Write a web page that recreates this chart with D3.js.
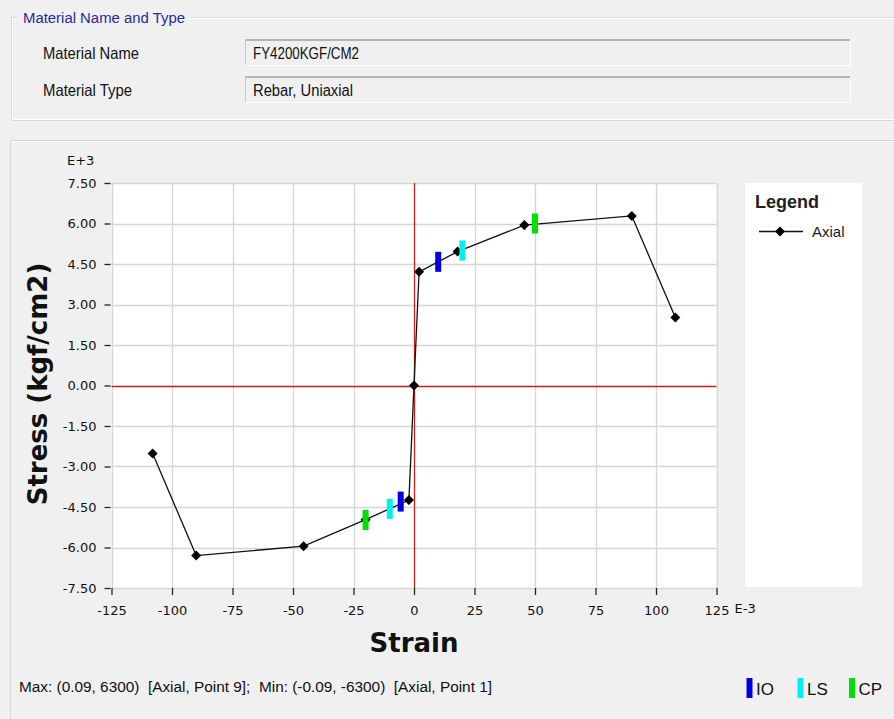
<!DOCTYPE html>
<html><head><meta charset="utf-8">
<script src="https://cdn.jsdelivr.net/npm/d3@7"></script>
<style>
html,body{margin:0;padding:0;background:#f0f0f0;}
svg{display:block;font-family:"Liberation Sans",Arial,sans-serif;}
</style></head>
<body>
<svg id="c" width="894" height="719"></svg>
<script>
// ---- data ----
const strain = [-108, -90, -45.6, -20, -2.1, 0, 2.1, 18, 45.6, 90, 108];      // E-3
const stress = [-2.52, -6.3, -5.95, -4.97, -4.24, 0, 4.21, 4.96, 5.94, 6.28, 2.52]; // E+3 kgf/cm2
const hingeLabels = ["IO", "LS", "CP", "IO", "LS", "CP"];
const hingeStrain = [10, 20, 50, -5.5, -10, -20];
const hingeStress = [4.58, 5.0, 6.0, -4.3, -4.57, -4.98];
const hingeColors = {IO: "#0000dd", LS: "#00f0f0", CP: "#00e000"};
const xTicks = [-125, -100, -75, -50, -25, 0, 25, 50, 75, 100, 125];
const yTicks = [-7.5, -6, -4.5, -3, -1.5, 0, 1.5, 3, 4.5, 6, 7.5];
const legendSeries = ["Axial"];
const footerText = "Max: (0.09, 6300)  [Axial, Point 9];  Min: (-0.09, -6300)  [Axial, Point 1]";

const svg = d3.select("#c");
const TICKFONT = "DejaVu Sans, Verdana, sans-serif";

// ---- top group box ----
const g0 = svg.append("g");
g0.append("rect").attr("x",11.5).attr("y",17.5).attr("width",900).attr("height",103)
  .attr("fill","none").attr("stroke","#d9d9d9");
g0.append("rect").attr("x",12.5).attr("y",18.5).attr("width",900).attr("height",101)
  .attr("fill","none").attr("stroke","#ffffff");
g0.append("rect").attr("x",19).attr("y",8).attr("width",171).attr("height",16).attr("fill","#f0f0f0");
g0.append("text").attr("x",23).attr("y",23).attr("font-size",14).attr("fill","#2a2a9a")
  .attr("textLength",162).attr("lengthAdjust","spacingAndGlyphs").text("Material Name and Type");
const fields = [["Material Name","FY4200KGF/CM2",39,96,106],["Material Type","Rebar, Uniaxial",76,89,100]];
fields.forEach(f=>{
  g0.append("text").attr("x",43).attr("y",f[2]+20).attr("font-size",16.5).attr("fill","#111")
    .attr("textLength",f[3]).attr("lengthAdjust","spacingAndGlyphs").text(f[0]);
  g0.append("rect").attr("x",245).attr("y",f[2]).attr("width",606).attr("height",27).attr("fill","#f0f0f0");
  g0.append("line").attr("x1",245).attr("x2",851).attr("y1",f[2]+1).attr("y2",f[2]+1).attr("stroke","#b4b4b4").attr("stroke-width",2);
  g0.append("line").attr("x1",245.5).attr("x2",245.5).attr("y1",f[2]).attr("y2",f[2]+27).attr("stroke","#c8c8c8");
  g0.append("line").attr("x1",245).attr("x2",851).attr("y1",f[2]+26.5).attr("y2",f[2]+26.5).attr("stroke","#ffffff");
  g0.append("line").attr("x1",850.5).attr("x2",850.5).attr("y1",f[2]).attr("y2",f[2]+27).attr("stroke","#ffffff");
  g0.append("text").attr("x",253).attr("y",f[2]+19.5).attr("font-size",16).attr("fill","#111")
    .attr("textLength",f[4]).attr("lengthAdjust","spacingAndGlyphs").text(f[1]);
});

// ---- chart panel ----
svg.append("rect").attr("x",10.5).attr("y",140.5).attr("width",900).attr("height",600)
  .attr("fill","#f0f0f0").attr("stroke","#d9d9d9");
svg.append("line").attr("x1",11).attr("x2",894).attr("y1",141.5).attr("y2",141.5).attr("stroke","#fff");

const x = d3.scaleLinear().domain([-125,125]).range([111.5,716.5]);
const y = d3.scaleLinear().domain([-7.5,7.5]).range([588,183]);

// plot bg
svg.append("rect").attr("x",x(-125)).attr("y",y(7.5)).attr("width",x(125)-x(-125)).attr("height",y(-7.5)-y(7.5)).attr("fill","#ffffff");

// grid
const grid = svg.append("g").attr("stroke","#d6d6d6").attr("stroke-width",1.3);
xTicks.forEach(t=>{ if(t!==0) grid.append("line").attr("x1",Math.round(x(t))+0.5).attr("x2",Math.round(x(t))+0.5).attr("y1",y(7.5)).attr("y2",y(-7.5)); });
yTicks.forEach(t=>{ if(t!==0) grid.append("line").attr("y1",Math.round(y(t))+0.5).attr("y2",Math.round(y(t))+0.5).attr("x1",x(-125)).attr("x2",x(125)); });

// axes
const xAxis = d3.axisBottom(x).tickValues(xTicks).tickSize(7).tickPadding(11).tickFormat(d=>String(d));
const gx = svg.append("g").attr("transform",`translate(0,${y(-7.5)})`).call(xAxis);
gx.select(".domain").remove();
gx.selectAll("line").attr("stroke","#222").attr("stroke-width",1.3);
gx.selectAll("text").attr("font-size",13).attr("fill","#111").attr("font-family",TICKFONT);
svg.append("text").attr("x",x(125)+18).attr("y",613).attr("font-size",13).attr("font-family",TICKFONT).attr("fill","#111").text("E-3");

const yAxis = d3.axisLeft(y).tickValues(yTicks).tickSize(0).tickPadding(15).tickFormat(d=>d.toFixed(2));
const gy = svg.append("g").attr("transform",`translate(${x(-125)},0)`).call(yAxis);
gy.select(".domain").remove();
gy.selectAll("text").attr("font-size",13).attr("fill","#111").attr("font-family",TICKFONT);
gy.selectAll(".tick").append("line").attr("x1",-7).attr("x2",-1).attr("stroke","#222").attr("stroke-width",1.3);
svg.append("text").attr("x",67).attr("y",165).attr("font-size",13).attr("font-family",TICKFONT).attr("fill","#111").text("E+3");

// red zero axes
svg.append("line").attr("x1",414.5).attr("x2",414.5).attr("y1",y(7.5)).attr("y2",y(-7.5)).attr("stroke","#c81e1e").attr("stroke-width",1.3);
svg.append("line").attr("y1",Math.round(y(0))+0.5).attr("y2",Math.round(y(0))+0.5).attr("x1",x(-125)).attr("x2",x(125)).attr("stroke","#c81e1e").attr("stroke-width",1.3);

// titles
svg.append("text").attr("x",x(0)).attr("y",652).attr("text-anchor","middle").attr("font-size",26).attr("font-weight","bold")
  .attr("font-family","DejaVu Sans, Verdana, sans-serif").attr("fill","#111").text("Strain");
svg.append("text").attr("transform",`translate(47,384) rotate(-90)`).attr("text-anchor","middle")
  .attr("font-size",26).attr("font-weight","bold").attr("font-family","DejaVu Sans, Verdana, sans-serif").attr("fill","#111").text("Stress (kgf/cm2)");

// series
const pts = strain.map((s,i)=>[s,stress[i]]);
svg.append("path").datum(pts).attr("fill","none").attr("stroke","#111").attr("stroke-width",1.3)
  .attr("d", d3.line().x(d=>x(d[0])).y(d=>y(d[1])));
const diamond = d3.symbol().type(d3.symbolDiamond2).size(64);
svg.append("g").selectAll("path").data(pts).join("path")
  .attr("transform",d=>`translate(${x(d[0])},${y(d[1])})`).attr("d",diamond).attr("fill","#000");

// hinge markers
svg.append("g").selectAll("rect").data(hingeStrain.map((s,i)=>({s, v:hingeStress[i], l:hingeLabels[i]}))).join("rect")
  .attr("x",d=>x(d.s)-3).attr("y",d=>y(d.v)-10).attr("width",6).attr("height",20).attr("fill",d=>hingeColors[d.l]);

// legend box
svg.append("rect").attr("x",745).attr("y",183).attr("width",117).attr("height",404).attr("fill","#fff");
svg.append("text").attr("x",755).attr("y",208).attr("font-size",18).attr("font-weight","bold").attr("fill","#222").text("Legend");
legendSeries.forEach((s,i)=>{
  const ly = 231.5 + i*20;
  svg.append("line").attr("x1",759).attr("x2",803).attr("y1",ly).attr("y2",ly).attr("stroke","#111").attr("stroke-width",1.3);
  svg.append("path").attr("transform",`translate(780,${ly})`).attr("d",diamond).attr("fill","#000");
  svg.append("text").attr("x",812).attr("y",ly+5).attr("font-size",15).attr("fill","#222").text(s);
});

// footer
svg.append("text").attr("x",19).attr("y",692).attr("font-size",14).attr("fill","#111")
  .attr("textLength",473).attr("lengthAdjust","spacingAndGlyphs").style("white-space","pre").text(footerText);
const keys = ["IO","LS","CP"];
const keyX = [746.5, 797.5, 849];
keys.forEach((k,i)=>{
  svg.append("rect").attr("x",keyX[i]).attr("y",678).attr("width",6).attr("height",20).attr("fill",hingeColors[k]);
  svg.append("text").attr("x",keyX[i]+9.5).attr("y",695).attr("font-size",17).attr("fill","#111").text(k);
});
</script>
</body></html>
